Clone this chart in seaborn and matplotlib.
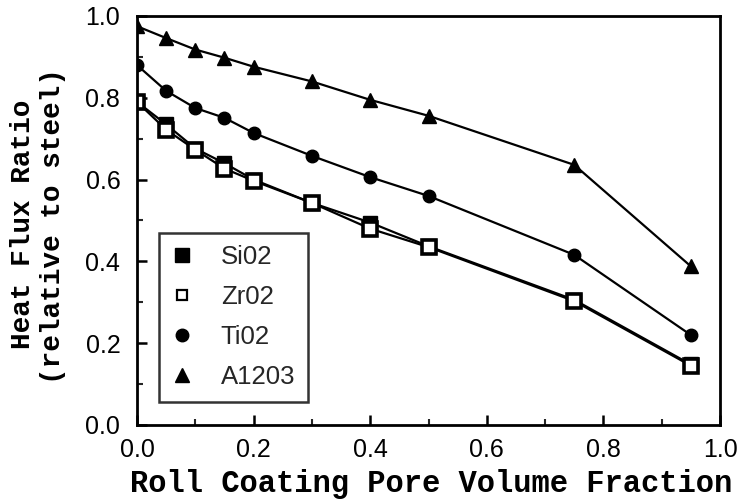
import matplotlib
matplotlib.use("Agg")
import matplotlib.pyplot as plt
import seaborn as sns
import pandas as pd
from matplotlib.ticker import MultipleLocator

pore_fraction = [0.0, 0.05, 0.10, 0.15, 0.20, 0.30, 0.40, 0.50, 0.75, 0.95]
sio2 = [0.790, 0.735, 0.676, 0.640, 0.600, 0.543, 0.495, 0.437, 0.306, 0.148]
zro2 = [0.790, 0.722, 0.673, 0.627, 0.597, 0.543, 0.480, 0.435, 0.303, 0.145]
tio2 = [0.880, 0.817, 0.775, 0.751, 0.714, 0.658, 0.606, 0.560, 0.416, 0.220]
al2o3 = [0.975, 0.946, 0.918, 0.898, 0.876, 0.840, 0.795, 0.756, 0.636, 0.388]

labels = ["Si02", "Zr02", "Ti02", "A1203"]

sns.set_theme(style="white")
plt.rcParams["font.family"] = ["Liberation Sans", "DejaVu Sans"]

fig = plt.figure(figsize=(7.41, 5.0), dpi=100)
ax = fig.add_axes([137 / 741, 1 - 425 / 500, 583 / 741, 409 / 500])

series = [
    (sio2, labels[0], dict(marker="s", markersize=10.5, markerfacecolor="black",
                           markeredgecolor="black", markeredgewidth=1.0)),
    (zro2, labels[1], dict(marker="s", markersize=10.5, markerfacecolor="white",
                           markeredgecolor="black", markeredgewidth=2.6)),
    (tio2, labels[2], dict(marker="o", markersize=9, markerfacecolor="black",
                           markeredgecolor="black", markeredgewidth=1.0)),
    (al2o3, labels[3], dict(marker="^", markersize=9.5, markerfacecolor="black",
                            markeredgecolor="black", markeredgewidth=1.0)),
]

for vals, lab, mk in series:
    df = pd.DataFrame({"x": pore_fraction, "y": vals})
    sns.lineplot(data=df, x="x", y="y", ax=ax, color="black", linewidth=1.6,
                 label=lab, **mk)

ax.set_xlim(0, 1.0)
ax.set_ylim(0, 1.0)
ax.xaxis.set_major_locator(MultipleLocator(0.2))
ax.xaxis.set_minor_locator(MultipleLocator(0.1))
ax.yaxis.set_major_locator(MultipleLocator(0.2))
ax.yaxis.set_minor_locator(MultipleLocator(0.1))
ax.set_xticklabels([f"{v:.1f}" for v in ax.get_xticks()])
ax.set_yticklabels([f"{v:.1f}" for v in ax.get_yticks()])
ax.tick_params(axis="both", which="major", direction="in", length=7, width=1.8,
               labelsize=18, colors="black", bottom=True, left=True,
               top=False, right=False)
ax.tick_params(axis="x", which="major", pad=9.5)
ax.tick_params(axis="y", which="major", pad=12)
ax.tick_params(axis="both", which="minor", direction="in", length=4, width=1.5,
               bottom=True, left=True, top=False, right=False)
for sp in ax.spines.values():
    sp.set_color("black")
    sp.set_linewidth(2.0)

ax.set_xlabel("")
ax.set_ylabel("")
x_font = dict(fontsize=22, fontweight="bold", family="Liberation Mono",
              color="black")
y_font = dict(fontsize=20, fontweight="bold", family="Liberation Mono",
              color="black")
fig.text(431 / 741, 1 - 492 / 500, "Roll Coating Pore Volume Fraction",
         ha="center", va="baseline", **x_font)
fig.text(23 / 741, 1 - 224 / 500, "Heat Flux Ratio", rotation=90,
         ha="center", va="center", **y_font)
fig.text(53 / 741, 1 - 226 / 500, "(relative to steel)", rotation=90,
         ha="center", va="center", **y_font)

leg = ax.legend(loc="lower left", bbox_to_anchor=(0.038, 0.056), fontsize=18.5,
                frameon=True, fancybox=False, edgecolor="black",
                borderpad=0.5, labelspacing=0.62, handlelength=0.8,
                handletextpad=1.1, borderaxespad=0)
leg.get_frame().set_linewidth(1.8)
for h in leg.legend_handles:
    h.set_linestyle("none")
leg.legend_handles[0].set_markersize(10)
leg.legend_handles[1].set_markersize(7)
leg.legend_handles[1].set_markeredgewidth(1.6)

fig.savefig("out.png", dpi=100, facecolor="white")
